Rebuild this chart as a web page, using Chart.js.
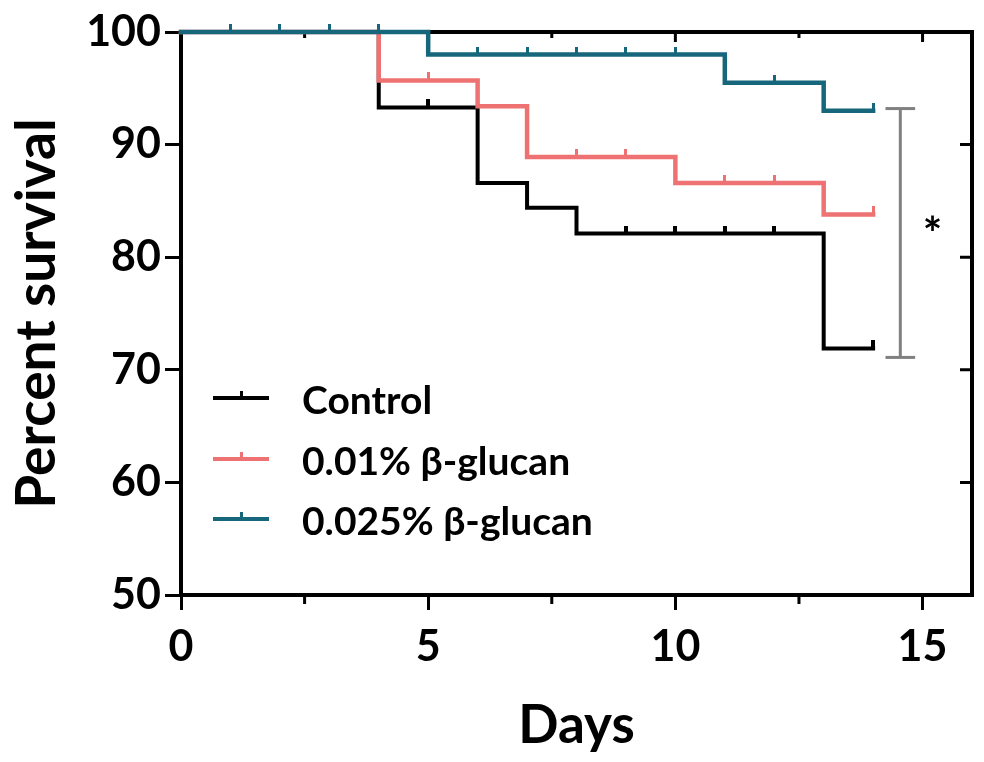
<!DOCTYPE html>
<html><head><meta charset="utf-8">
<script src="https://cdn.jsdelivr.net/npm/chart.js@4.4.0/dist/chart.umd.min.js"></script>
<style>html,body{margin:0;padding:0;background:#fff}#wrap{width:984px;height:762px;position:relative}</style>
</head><body><div id="wrap"><canvas id="c"></canvas></div>
<script>
// ---- data ----
const seriesNames = ['Control', '0.01% β-glucan', '0.025% β-glucan'];
const seriesColors = ['#000000', '#EF7272', '#17677C'];

const controlDays = [0, 4, 6, 7, 8, 13, 14];
const controlSurvival = [100, 93.3, 86.6, 84.4, 82.1, 71.9, 71.9];
const controlCensorDays = [5, 9, 10, 11, 12, 14];
const controlCensorSurvival = [93.3, 82.1, 82.1, 82.1, 82.1, 71.9];

const lowDays = [0, 4, 6, 7, 10, 13, 14];
const lowSurvival = [100, 95.7, 93.4, 88.9, 86.6, 83.8, 83.8];
const lowCensorDays = [5, 8, 9, 11, 12, 14];
const lowCensorSurvival = [95.7, 88.9, 88.9, 86.6, 86.6, 83.8];

const highDays = [0, 5, 11, 13, 14];
const highSurvival = [100, 98.0, 95.5, 93.0, 93.0];
const highCensorDays = [1, 2, 3, 4, 6, 7, 8, 9, 10, 12, 14];
const highCensorSurvival = [100, 100, 100, 100, 98.0, 98.0, 98.0, 98.0, 98.0, 95.5, 93.0];

const xMajorTicks = [0, 5, 10, 15];
const xMinorTicks = [2.5, 7.5, 12.5];
const yTicks = [50, 60, 70, 80, 90, 100];

const sigBarDay = 14.55;
const sigBarRange = [71.1, 93.2];
const sigCapHalfWidth = 0.3;
const sigLabel = '*';
const sigLabelAt = [15.2, 82.9];

// ---- helpers ----
const pts = (xs, ys) => xs.map((x, i) => ({x: x, y: ys[i]}));
function tickImage(color, w, up) {
  const c = document.createElement('canvas');
  c.width = w; c.height = up * 2;
  const g = c.getContext('2d');
  g.fillStyle = color; g.fillRect(0, 0, w, up);
  return c;
}
const FONT = 'Lato, "Open Sans", sans-serif';

const curves = [
  {days: controlDays, surv: controlSurvival, cd: controlCensorDays, cs: controlCensorSurvival, w: 4, tw: 4, order: 3},
  {days: lowDays, surv: lowSurvival, cd: lowCensorDays, cs: lowCensorSurvival, w: 4.5, tw: 3, order: 2},
  {days: highDays, surv: highSurvival, cd: highCensorDays, cs: highCensorSurvival, w: 4.5, tw: 3, order: 1}
];

const datasets = [];
curves.forEach((c, i) => {
  datasets.push({
    label: seriesNames[i], data: pts(c.days, c.surv), borderColor: seriesColors[i],
    borderWidth: c.w, stepped: 'before', showLine: true, pointRadius: 0, fill: false, clip: false, order: c.order,
    borderCapStyle: 'square', borderJoinStyle: 'miter'
  });
  datasets.push({
    label: seriesNames[i] + ' censored', data: pts(c.cd, c.cs), showLine: false,
    pointStyle: tickImage(seriesColors[i], c.tw, 8), pointRadius: 4, clip: false, order: c.order
  });
});
const gray = '#808080';
datasets.push({label: 'sig', data: [{x: sigBarDay, y: sigBarRange[0]}, {x: sigBarDay, y: sigBarRange[1]}],
  borderColor: gray, borderWidth: 3, pointRadius: 0, showLine: true, clip: false, order: 5});
sigBarRange.forEach(v => datasets.push({label: 'cap', data: [{x: sigBarDay - sigCapHalfWidth, y: v}, {x: sigBarDay + sigCapHalfWidth, y: v}],
  borderColor: gray, borderWidth: 3, pointRadius: 0, showLine: true, clip: false, order: 5}));

const framePlugin = {
  id: 'frame',
  beforeDatasetsDraw(chart) {
    const {ctx, chartArea: a, scales: {x, y}} = chart;
    ctx.save();
    ctx.strokeStyle = '#000'; ctx.lineWidth = 4; ctx.lineCap = 'square';
    ctx.beginPath(); ctx.moveTo(a.left, a.top); ctx.lineTo(a.right, a.top); ctx.lineTo(a.right, a.bottom); ctx.stroke();
    ctx.lineWidth = 3; ctx.lineCap = 'butt';
    ctx.beginPath();
    xMajorTicks.forEach(v => { const px = x.getPixelForValue(v); ctx.moveTo(px, a.top); ctx.lineTo(px, a.top + 10); });
    xMinorTicks.forEach(v => { const px = x.getPixelForValue(v); ctx.moveTo(px, a.top); ctx.lineTo(px, a.top + 6);
      ctx.moveTo(px, a.bottom); ctx.lineTo(px, a.bottom + 9); });
    yTicks.forEach(v => { const py = y.getPixelForValue(v); ctx.moveTo(a.right, py); ctx.lineTo(a.right - 12, py); });
    ctx.stroke();
    ctx.restore();
  },
  afterDraw(chart) {
    const {ctx, scales: {x, y}} = chart;
    ctx.save();
    // significance label
    ctx.fillStyle = '#000'; ctx.font = 'bold 46px ' + FONT; ctx.textAlign = 'center'; ctx.textBaseline = 'middle';
    ctx.fillText(sigLabel, x.getPixelForValue(sigLabelAt[0]), y.getPixelForValue(sigLabelAt[1]) + 11);
    // legend
    const rows = [401, 462, 522];
    seriesNames.forEach((n, i) => {
      ctx.strokeStyle = seriesColors[i]; ctx.lineWidth = 4;
      ctx.beginPath(); ctx.moveTo(213, rows[i] - 3); ctx.lineTo(269, rows[i] - 3); ctx.stroke();
      ctx.fillStyle = seriesColors[i]; ctx.fillRect(240, rows[i] - 10, 3, 7);
      ctx.fillStyle = '#000'; ctx.font = 'bold 39px ' + FONT; ctx.textAlign = 'left'; ctx.textBaseline = 'middle';
      ctx.fillText(n, 302, rows[i]);
    });
    ctx.restore();
  }
};

new Chart(document.getElementById('c'), {
  type: 'scatter',
  data: {datasets},
  options: {
    responsive: true, maintainAspectRatio: false, animation: false,
    layout: {padding: {left: 0, top: 32, right: 12, bottom: 0}},
    plugins: {legend: {display: false}, tooltip: {enabled: false}},
    scales: {
      x: {
        type: 'linear', min: 0, max: 16,
        afterBuildTicks: s => { s.ticks = xMajorTicks.map(v => ({value: v})); },
        afterFit: s => { s.height = 167; },
        ticks: {color: '#000', font: {family: FONT, size: 43, weight: 'bold'}, padding: 11, maxRotation: 0, autoSkip: false},
        grid: {drawOnChartArea: false, tickLength: 15, lineWidth: 3, color: '#000'},
        border: {color: '#000', width: 4},
        title: {display: true, text: 'Days', color: '#000', font: {family: FONT, size: 53, weight: 'bold'}, padding: {top: 0, bottom: 4}}
      },
      y: {
        type: 'linear', min: 50, max: 100,
        afterBuildTicks: s => { s.ticks = yTicks.map(v => ({value: v})); },
        afterFit: s => { s.width = 181; },
        ticks: {color: '#000', font: {family: FONT, size: 43, weight: 'bold'}, padding: 4},
        grid: {drawOnChartArea: false, tickLength: 16, lineWidth: 3, color: '#000'},
        border: {color: '#000', width: 4},
        title: {display: true, text: 'Percent survival', color: '#000', font: {family: FONT, size: 55, weight: 'bold'}, padding: {top: 4, bottom: 0}}
      }
    }
  },
  plugins: [framePlugin]
});
</script></body></html>
